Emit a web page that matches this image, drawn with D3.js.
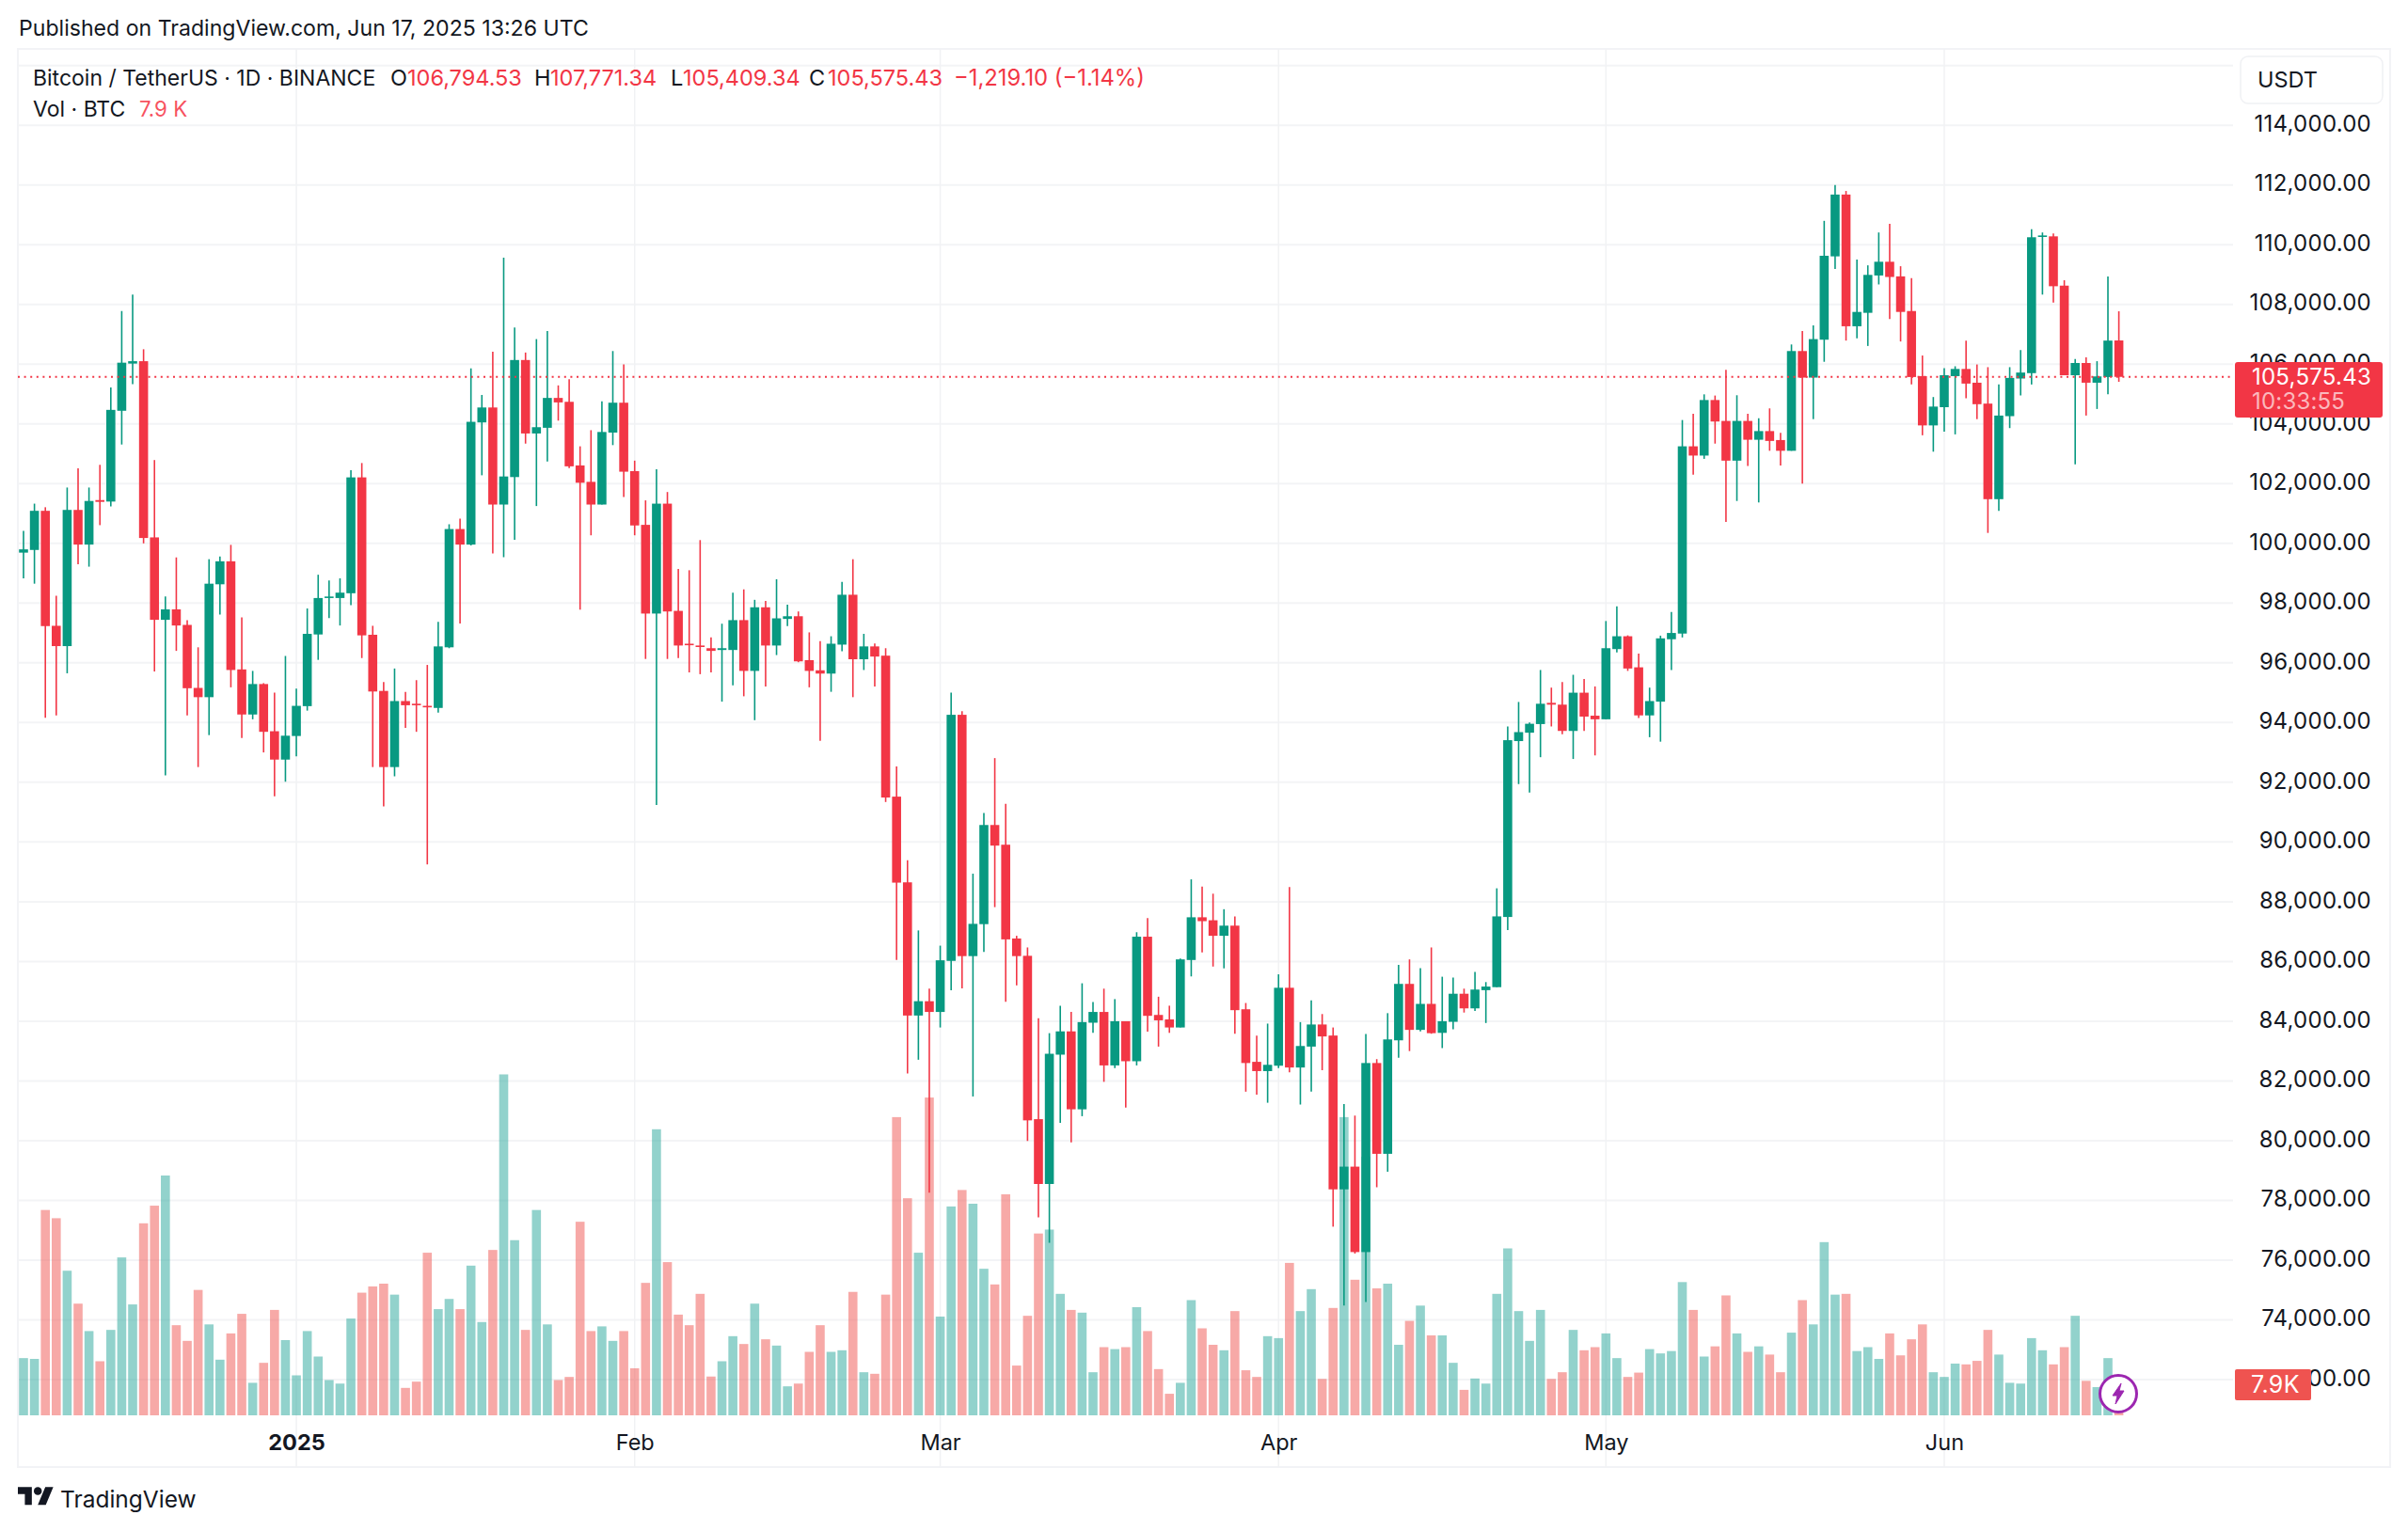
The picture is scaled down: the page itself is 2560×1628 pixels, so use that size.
<!DOCTYPE html>
<html>
<head>
<meta charset="utf-8">
<title>BTCUSDT 1D</title>
<script src="https://cdn.jsdelivr.net/npm/d3@7"></script>
<style>
  html, body { margin: 0; padding: 0; background: #fff; }
  svg { display: block; }
  text { font-family: Inter, "Noto Sans", sans-serif; fill: #131722; }
</style>
</head>
<body>
<svg id="chart" width="2560" height="1628"></svg>
<script>
// daily candles, 7 Dec 2024 -> 17 Jun 2025
const opens = [
  99690, 99780, 101090, 97240, 96560, 101120, 99960, 101450, 101400, 104440,
  106020, 106100, 100200, 97440, 97790, 97270, 95160, 94850, 98630, 99400,
  95780, 94270, 95290, 93710, 92760, 93550, 94550, 96950, 98170, 98170,
  98330, 102210, 96940, 95060, 92510, 94720, 94630, 94560, 94490, 96520,
  100480, 99960, 104050, 104550, 101300, 102220, 106140, 103680, 103870, 104870,
  104740, 102610, 102060, 101300, 103710, 104710, 102420, 100620, 97650, 101330,
  97740, 96640, 96580, 96490, 96430, 96430, 97430, 95730, 97860, 96580,
  97470, 97560, 96090, 95750, 95640, 96610, 98280, 96120, 96550, 96240,
  91520, 88650, 84190, 84670, 84310, 86020, 94260, 86180, 87250, 90570,
  89910, 86770, 86190, 80720, 78550, 82880, 83660, 81050, 83950, 84310,
  82520, 84000, 82660, 86830, 84210, 84060, 83790, 86050, 87480, 87380,
  86860, 87200, 84400, 82640, 82330, 82510, 85120, 82450, 83150, 83890,
  83520, 78370, 79130, 76270, 82600, 79560, 83360, 85250, 83710, 84580,
  83610, 83980, 84920, 84430, 85040, 85140, 87490, 93380, 93660, 93950,
  94660, 94600, 93720, 95000, 94230, 94110, 96460, 96890, 95850, 94240,
  94700, 96790, 96980, 103250, 102940, 104800, 104100, 102770, 104100, 103470,
  103760, 103460, 103100, 106440, 105550, 106820, 109610, 111680, 107270, 107720,
  108970, 109430, 108940, 107780, 105600, 103950, 104560, 105600, 105840, 105380,
  104680, 101480, 104260, 105520, 105700, 110270, 110280, 108630, 105630, 106040,
  105380, 105570, 106794.53
];
const highs = [
  100420, 101330, 101210, 98250, 101870, 102510, 101870, 102630, 105220, 107780,
  108330, 106500, 102790, 98220, 99530, 97430, 96520, 99470, 99560, 99950,
  97520, 95730, 95320, 95000, 96230, 95140, 97820, 98950, 98760, 98830,
  102450, 102690, 97240, 95360, 95810, 95030, 95420, 95930, 97370, 100640,
  100830, 105860, 104970, 106420, 109570, 107230, 106390, 106840, 107110, 105290,
  105500, 103250, 103790, 104760, 106440, 105990, 102770, 101440, 102480, 101720,
  99140, 99100, 100110, 96850, 97310, 98350, 98460, 98110, 98070, 98800,
  97950, 97720, 97020, 96730, 96890, 98710, 99470, 96970, 96650, 96490,
  92530, 89390, 87040, 85090, 86530, 95000, 94380, 88940, 90970, 92810,
  91280, 86860, 86470, 84100, 83600, 84520, 84310, 85270, 84640, 85090,
  84740, 84000, 86980, 87450, 84820, 84520, 86100, 88750, 88510, 88270,
  87750, 87510, 84610, 83520, 83920, 85570, 88490, 83970, 84700, 84240,
  83790, 81230, 80840, 83570, 82730, 84270, 85890, 86070, 85780, 86470,
  85490, 85460, 85090, 85650, 85310, 88450, 93870, 94690, 94000, 95760,
  95170, 95360, 95600, 95460, 95210, 97400, 97890, 96920, 96310, 95170,
  96910, 97700, 104130, 104340, 104990, 104950, 105810, 104960, 104340, 104190,
  104520, 103700, 106660, 107110, 107300, 110800, 112000, 111800, 109500, 109310,
  110410, 110700, 109280, 108880, 106290, 104900, 105870, 105930, 106790, 105990,
  105900, 105320, 105900, 106470, 110520, 110410, 110380, 108810, 106170, 106230,
  106100, 108940, 107771.34
];
const lows = [
  98830, 98650, 94160, 94240, 95650, 99300, 99220, 100610, 101240, 103310,
  105330, 100000, 95710, 92230, 96400, 94240, 92510, 93580, 97620, 95180,
  93480, 94110, 93000, 91530, 92020, 92870, 94400, 96100, 97500, 97250,
  97930, 96160, 92510, 91190, 92200, 93820, 93690, 89250, 94330, 96490,
  97320, 99930, 102280, 99660, 99540, 100120, 103340, 101250, 102740, 104110,
  102520, 97780, 100270, 101300, 103290, 101550, 100270, 96130, 91240, 96130,
  96160, 95680, 95620, 95680, 94700, 95250, 94880, 94080, 95210, 96260,
  97230, 96020, 95180, 93390, 95030, 96390, 94850, 95760, 95210, 91340,
  86050, 82250, 82710, 78260, 83790, 85040, 85100, 81480, 86320, 87820,
  84650, 85200, 79990, 77430, 76580, 80600, 79940, 80820, 83610, 81970,
  82430, 81110, 82520, 83650, 83150, 83610, 83790, 85500, 86300, 85830,
  85770, 83580, 81640, 81540, 81270, 82430, 82290, 81210, 81640, 82360,
  77120, 74480, 76220, 74600, 78440, 78960, 82780, 83000, 83660, 83580,
  83100, 83730, 84290, 84340, 83940, 85140, 87050, 91940, 91660, 92840,
  93870, 93610, 92780, 93720, 92900, 94110, 96350, 95730, 94150, 93510,
  93360, 95760, 96850, 102300, 102830, 103340, 100720, 101420, 102590, 101370,
  103100, 102610, 103100, 102000, 104160, 106080, 109190, 106790, 106870, 106610,
  108670, 107510, 106760, 105320, 103620, 103070, 103740, 103650, 104860, 104160,
  100350, 101090, 103860, 104950, 105320, 108330, 108060, 105630, 102650, 104280,
  104500, 104990, 105409.34
];
const closes = [
  99800, 101090, 97230, 96560, 101120, 99960, 101420, 101390, 104470, 106050,
  106100, 100180, 97440, 97790, 97250, 95150, 94850, 98650, 99400, 95760,
  94270, 95290, 93690, 92760, 93560, 94560, 96970, 98170, 98220, 98350,
  102210, 96920, 95040, 92510, 94720, 94580, 94580, 94510, 96550, 100480,
  99960, 104070, 104550, 101300, 102240, 106140, 103680, 103890, 104870, 104720,
  102580, 102030, 101300, 103730, 104710, 102400, 100600, 97650, 101330, 97720,
  96580, 96590, 96530, 96400, 96490, 97430, 95730, 97860, 96580, 97490,
  97560, 96050, 95730, 95640, 96640, 98280, 96120, 96550, 96210, 91490,
  88640, 84190, 84670, 84310, 86040, 94260, 86180, 87260, 90570, 89880,
  86740, 86180, 80680, 78550, 82910, 83660, 81050, 83970, 84310, 82520,
  84000, 82660, 86830, 84180, 84030, 83790, 86070, 87480, 87350, 86860,
  87200, 84370, 82600, 82330, 82540, 85120, 82450, 83170, 83890, 83490,
  78370, 79130, 76270, 82600, 79560, 83390, 85250, 83710, 84580, 83600,
  84000, 84920, 84430, 85060, 85160, 87510, 93410, 93680, 93960, 94630,
  94600, 93720, 95000, 94200, 94110, 96490, 96890, 95810, 94240, 94720,
  96820, 97000, 103250, 102940, 104800, 104080, 102770, 104100, 103470, 103760,
  103430, 103100, 106440, 105550, 106840, 109630, 111680, 107270, 107750, 108990,
  109430, 108920, 107750, 105570, 103950, 104580, 105630, 105840, 105350, 104660,
  101480, 104280, 105540, 105720, 110250, 110310, 108610, 105630, 106040, 105380,
  105590, 106790, 105575.43
];
// volume in thousand BTC
const volumes = [
  14.6, 14.4, 52.4, 50.3, 36.9, 28.5, 21.5, 13.8, 21.8, 40.3,
  28.3, 49.0, 53.5, 61.2, 23.0, 19.0, 32.0, 23.2, 14.2, 20.9,
  25.9, 8.3, 13.4, 26.9, 19.2, 10.2, 21.5, 15.0, 9.0, 8.1,
  24.7, 31.3, 32.9, 33.6, 30.8, 7.0, 8.6, 41.5, 27.1, 29.7,
  27.1, 38.2, 23.8, 42.2, 87.0, 44.7, 21.8, 52.4, 23.2, 9.0,
  9.8, 49.4, 21.5, 22.7, 19.0, 21.5, 12.0, 33.8, 73.0, 39.1,
  25.7, 23.0, 31.0, 9.9, 13.8, 20.2, 18.2, 28.5, 19.4, 17.8,
  7.4, 8.1, 16.2, 23.0, 16.2, 16.6, 31.5, 11.0, 10.6, 30.8,
  76.1, 55.4, 41.5, 81.1, 25.2, 53.3, 57.5, 54.0, 37.4, 33.4,
  56.4, 12.7, 25.4, 46.4, 47.4, 31.0, 26.9, 26.2, 11.0, 17.4,
  16.9, 17.4, 27.6, 21.5, 11.8, 5.5, 8.3, 29.4, 22.2, 18.0,
  16.6, 26.6, 11.5, 9.8, 20.2, 19.7, 38.9, 26.6, 32.2, 9.3,
  27.4, 76.1, 34.6, 66.0, 32.4, 33.6, 18.0, 24.1, 28.0, 20.4,
  20.4, 13.4, 6.5, 9.4, 8.1, 31.0, 42.6, 26.6, 19.0, 26.9,
  9.3, 11.0, 21.8, 16.6, 17.4, 20.9, 14.6, 9.8, 10.9, 16.9,
  15.8, 16.4, 34.0, 26.9, 15.0, 17.6, 30.6, 20.9, 16.2, 17.6,
  15.5, 11.0, 21.1, 29.4, 23.2, 44.2, 30.8, 31.0, 16.4, 17.4,
  14.4, 20.9, 15.3, 19.4, 23.2, 11.0, 9.8, 13.2, 13.0, 13.9,
  21.8, 15.5, 8.3, 8.1, 19.7, 16.6, 13.0, 17.4, 25.4, 8.8,
  7.2, 14.6, 7.9
];
const priceTicks = d3.range(72000, 116001, 2000);
const monthTicks = [
  new Date(Date.UTC(2025, 0, 1)), new Date(Date.UTC(2025, 1, 1)), new Date(Date.UTC(2025, 2, 1)),
  new Date(Date.UTC(2025, 3, 1)), new Date(Date.UTC(2025, 4, 1)), new Date(Date.UTC(2025, 5, 1))
];
const monthLabels = ["2025", "Feb", "Mar", "Apr", "May", "Jun"];

const lastPrice = closes[closes.length - 1];
const green = "#089981", red = "#f23645";
const volGreen = "#26a69a", volRed = "#ef5350";
const days = d3.utcDay.range(new Date(Date.UTC(2024, 11, 7)), new Date(Date.UTC(2025, 5, 18)));

const plot = { left: 19, right: 2374, top: 52, bottom: 1560, edge: 2541, volBase: 1505 };

const x = d3.scaleUtc().domain([days[0], days[days.length - 1]]).range([25, 2252.6]);
const y = d3.scaleLinear().domain([72000, 114000]).range([1467, 133.2]);
const yVol = d3.scaleLinear().domain([0, 100]).range([plot.volBase, plot.volBase - 416.7]);

const svg = d3.select("#chart");

// frame
svg.append("rect")
  .attr("x", plot.left).attr("y", plot.top)
  .attr("width", plot.edge - plot.left).attr("height", plot.bottom - plot.top)
  .attr("fill", "none").attr("stroke", "#f2f3f6").attr("stroke-width", 2);

// grid
svg.append("g").selectAll("line").data(priceTicks).join("line")
  .attr("x1", plot.left).attr("x2", plot.right)
  .attr("y1", d => y(d)).attr("y2", d => y(d))
  .attr("stroke", "#f3f4f6").attr("stroke-width", 2);
svg.append("g").selectAll("line").data(monthTicks).join("line")
  .attr("x1", d => x(d)).attr("x2", d => x(d))
  .attr("y1", plot.top).attr("y2", plot.bottom)
  .attr("stroke", "#f1f2f4").attr("stroke-width", 1.5);

// volume
svg.append("g").selectAll("rect").data(days).join("rect")
  .attr("x", d => x(d) - 4.8).attr("width", 9.6)
  .attr("y", (d, i) => yVol(volumes[i]))
  .attr("height", (d, i) => plot.volBase - yVol(volumes[i]))
  .attr("fill", (d, i) => closes[i] >= opens[i] ? volGreen : volRed)
  .attr("fill-opacity", 0.5);

// wicks then bodies
const candles = svg.append("g");
candles.selectAll("line").data(days).join("line")
  .attr("x1", d => x(d)).attr("x2", d => x(d))
  .attr("y1", (d, i) => y(highs[i])).attr("y2", (d, i) => y(lows[i]))
  .attr("stroke", (d, i) => closes[i] >= opens[i] ? green : red)
  .attr("stroke-width", 1.6);
candles.selectAll("rect").data(days).join("rect")
  .attr("x", d => x(d) - 4.8).attr("width", 9.6)
  .attr("y", (d, i) => y(Math.max(opens[i], closes[i])))
  .attr("height", (d, i) => Math.max(1.6, Math.abs(y(opens[i]) - y(closes[i]))))
  .attr("fill", (d, i) => closes[i] >= opens[i] ? green : red);

// last price line
svg.append("line")
  .attr("x1", plot.left).attr("x2", plot.right)
  .attr("y1", y(lastPrice)).attr("y2", y(lastPrice))
  .attr("stroke", red).attr("stroke-width", 2).attr("stroke-dasharray", "2 4.6");

// price axis
const priceAxis = d3.axisRight(y)
  .tickValues(priceTicks.filter(d => d <= 114000))
  .tickSize(0)
  .tickFormat(d3.format(",.2f"));
const gPrice = svg.append("g").attr("transform", `translate(${plot.right},0)`).call(priceAxis);
gPrice.select(".domain").remove();
gPrice.selectAll("text")
  .attr("x", 147).attr("dy", "0.26em").attr("text-anchor", "end")
  .style("font-size", "24px").style("letter-spacing", "0.25px")
  .style("font-family", "Inter").style("fill", "#131722");

// time axis
const timeAxis = d3.axisBottom(x)
  .tickValues(monthTicks)
  .tickSize(0)
  .tickFormat((d, i) => monthLabels[i]);
const gTime = svg.append("g").attr("transform", `translate(0,${plot.volBase})`).call(timeAxis);
gTime.select(".domain").remove();
gTime.selectAll("text")
  .attr("y", 37).attr("dy", 0)
  .style("font-size", "23.5px").style("font-family", "Inter").style("fill", "#131722")
  .style("font-weight", (d, i) => i === 0 ? 700 : 400);

// header and legend text
function label(txt, px, py, color, size) {
  return svg.append("text").attr("x", px).attr("y", py)
    .style("font-size", (size || 23.5) + "px").style("fill", color || "#131722").text(txt);
}
label("Published on TradingView.com, Jun 17, 2025 13:26 UTC", 20, 38, "#131722", 23.1);
label("Bitcoin / TetherUS · 1D · BINANCE", 35, 91, "#131722", 23);
label("O", 415, 91);
label("106,794.53", 433, 91, red);
label("H", 568, 91);
label("107,771.34", 585, 91, red);
label("L", 713, 91);
label("105,409.34", 726, 91, red);
label("C", 860, 91);
label("105,575.43", 880, 91, red);
label("−1,219.10 (−1.14%)", 1014, 91, red, 23.8);
label("Vol · BTC", 35, 124, "#131722", 23);
label("7.9 K", 148, 124, "#f7525f", 22.3);

// USDT box
svg.append("rect").attr("x", 2382).attr("y", 60).attr("width", 151).attr("height", 50)
  .attr("rx", 8).attr("fill", "#fff").attr("stroke", "#f0f1f4").attr("stroke-width", 1.5);
label("USDT", 2400, 93);

// last price tag
svg.append("rect").attr("x", 2376).attr("y", 385).attr("width", 157).attr("height", 59)
  .attr("rx", 3).attr("fill", red);
label("105,575.43", 2521, 409, "#fff", 24).attr("text-anchor", "end").style("letter-spacing", "0.25px");
label("10:33:55", 2394, 435, "#fbb8bd", 24).style("letter-spacing", "0.2px");

// volume tag
svg.append("rect").attr("x", 2376).attr("y", 1456).attr("width", 81).attr("height", 33)
  .attr("rx", 2).attr("fill", volRed);
label("7.9K", 2393, 1481, "#fff", 25).style("letter-spacing", "0.4px");

// purple bolt badge
const badge = svg.append("g").attr("transform", "translate(2252,1482)");
badge.append("circle").attr("r", 19.5).attr("fill", "#fff").attr("stroke", "#9c27b0").attr("stroke-width", 3);
badge.append("path").attr("d", "M3,-11 L-6,2 H-1 L-3,11 L6,-3 H1 Z")
  .attr("fill", "#9c27b0").attr("stroke", "#9c27b0").attr("stroke-width", 1).attr("stroke-linejoin", "round");

// TradingView logo
const logo = svg.append("g").attr("transform", "translate(19,1577) scale(1.06)").attr("fill", "#131722");
logo.append("path").attr("d", "M14 22H7V11H0V4h14v18zM28 22h-8l7.5-18h8L28 22z");
logo.append("circle").attr("cx", 20).attr("cy", 8).attr("r", 4);
label("TradingView", 64, 1603, "#131722", 24.5);
</script>
</body>
</html>
